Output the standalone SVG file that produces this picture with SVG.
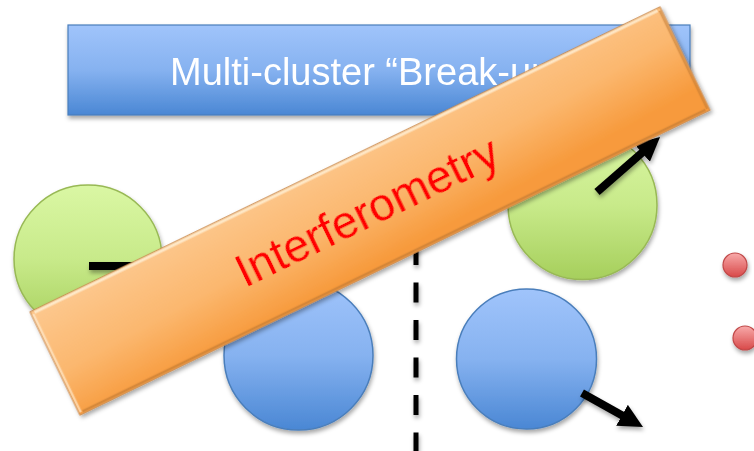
<svg xmlns="http://www.w3.org/2000/svg" width="754" height="451" viewBox="0 0 754 451">
<style>
.lbl{font-family:"Liberation Sans",Arial,sans-serif}
.arr{stroke:#000;stroke-width:8;fill:none;marker-end:url(#ah)}
</style>
<defs>
<filter id="sh" x="-20%" y="-20%" width="140%" height="150%">
<feDropShadow dx="1" dy="3" stdDeviation="2" flood-color="#000" flood-opacity="0.35"/>
</filter>
<linearGradient id="gBlue" x1="0" y1="0" x2="0" y2="1">
<stop offset="0" stop-color="#a0c4fb"/><stop offset="0.5" stop-color="#86b2f0"/><stop offset="1" stop-color="#4a87d4"/>
</linearGradient>
<linearGradient id="gGreen" x1="0" y1="0" x2="0" y2="1">
<stop offset="0" stop-color="#daf7a4"/><stop offset="0.5" stop-color="#c8ea8a"/><stop offset="1" stop-color="#a6cf5c"/>
</linearGradient>
<linearGradient id="gRed" x1="0" y1="0" x2="0" y2="1">
<stop offset="0" stop-color="#f8aaaa"/><stop offset="1" stop-color="#d84848"/>
</linearGradient>
<linearGradient id="gOrange" x1="0" y1="0" x2="0.3" y2="1">
<stop offset="0" stop-color="#fdc88e"/><stop offset="0.55" stop-color="#fbb76e"/><stop offset="1" stop-color="#f79a3c"/>
</linearGradient>
<marker id="ah" markerUnits="userSpaceOnUse" markerWidth="24" markerHeight="24" viewBox="0 0 24 24" refX="8" refY="12" orient="auto">
<path d="M0,0 L24,12 L0,24 z" fill="#000"/>
</marker>
</defs>

<g id="title" filter="url(#sh)">
<rect x="68" y="25" width="622" height="90" fill="url(#gBlue)" stroke="#4a7ebb" stroke-width="1.2"/>
<text class="lbl" x="170" y="85" font-size="38" fill="#fff">Multi-cluster “Break-up”</text>
</g>

<g id="green-left" filter="url(#sh)"><circle cx="88" cy="259" r="74" fill="url(#gGreen)" stroke="#98b954" stroke-width="1.5"/></g>
<g id="green-right" filter="url(#sh)"><circle cx="582.5" cy="205" r="74.5" fill="url(#gGreen)" stroke="#98b954" stroke-width="1.5"/></g>
<g id="blue-left" filter="url(#sh)"><circle cx="298.5" cy="355.5" r="74.5" fill="url(#gBlue)" stroke="#4a7ebb" stroke-width="1.5"/></g>
<g id="blue-right" filter="url(#sh)"><circle cx="526.5" cy="359" r="70" fill="url(#gBlue)" stroke="#4a7ebb" stroke-width="1.5"/></g>
<g id="red-1" filter="url(#sh)"><circle cx="735" cy="265" r="12" fill="url(#gRed)" stroke="#c04848" stroke-width="1.2"/></g>
<g id="red-2" filter="url(#sh)"><circle cx="745" cy="338" r="12" fill="url(#gRed)" stroke="#c04848" stroke-width="1.2"/></g>
<g id="red-3" filter="url(#sh)"><circle cx="66" cy="309" r="12" fill="url(#gRed)" stroke="#a04040" stroke-width="1.2"/></g>

<g id="connectors" filter="url(#sh)">
<line class="arr" x1="89" y1="266" x2="200" y2="266"/>
<line class="arr" x1="597" y1="192" x2="648" y2="147.5"/>
<line class="arr" x1="582" y1="393" x2="629" y2="419.2"/>
<line x1="416" y1="170" x2="416" y2="451" stroke="#000" stroke-width="5" stroke-dasharray="20 17.5"/>
</g>

<g id="interferometry" filter="url(#sh)" transform="rotate(-25.83 370 211)">
<rect x="20" y="153.75" width="700" height="114.5" fill="url(#gOrange)" stroke="#c98a4e" stroke-width="1"/>
<line x1="24" y1="156" x2="716" y2="156" stroke="#fff6e0" stroke-width="3" opacity="0.7"/>
<line x1="24" y1="266" x2="716" y2="266" stroke="#c07a34" stroke-width="2.5" opacity="0.6"/>
<line x1="718" y1="157" x2="718" y2="266" stroke="#c07a34" stroke-width="2.5" opacity="0.5"/>
<line x1="22" y1="157" x2="22" y2="266" stroke="#fff0d8" stroke-width="2.5" opacity="0.6"/>
<text class="lbl" x="367" y="226" font-size="46" fill="#ff0000" text-anchor="middle">Interferometry</text>
</g>
</svg>
